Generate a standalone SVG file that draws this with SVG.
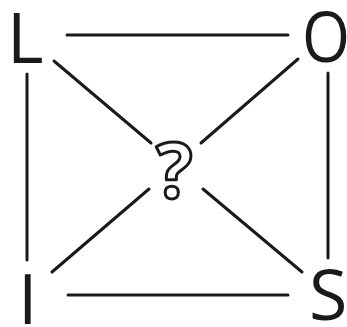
<svg xmlns="http://www.w3.org/2000/svg" width="347" height="327" viewBox="0 0 347 327">
<style>
.lbl{font-family:"Open Sans","Liberation Sans",sans-serif;font-weight:400;font-size:70px;fill:#1a1a1a}
.q{font-family:"Open Sans","Liberation Sans",sans-serif;font-weight:700;font-size:77px;fill:#fff;stroke:#1a1a1a;stroke-width:3;stroke-linejoin:round}
.c{stroke:#1a1a1a;stroke-width:3;stroke-linecap:round;fill:none}
</style>
<rect width="347" height="327" fill="#fff"/>
<g id="connectors">
<line class="c" x1="67" y1="35" x2="288" y2="35"/>
<line class="c" x1="68" y1="295" x2="288" y2="295"/>
<line class="c" x1="27" y1="74" x2="27" y2="260"/>
<line class="c" x1="328" y1="73" x2="328" y2="258"/>
<line class="c" x1="54" y1="61" x2="151" y2="143"/>
<line class="c" x1="298" y1="59" x2="201" y2="143"/>
<line class="c" x1="149" y1="189" x2="52" y2="272"/>
<line class="c" x1="203" y1="189" x2="302" y2="272"/>
</g>
<g id="node-L"><text class="lbl" x="7" y="63">L</text></g>
<g id="node-O"><text class="lbl" x="302" y="62" textLength="48" lengthAdjust="spacingAndGlyphs">O</text></g>
<g id="node-I"><text class="lbl" x="18" y="324">I</text></g>
<g id="node-S"><text class="lbl" x="309" y="320">S</text></g>
<g id="node-q"><text class="q" x="156" y="198">?</text></g>
</svg>
